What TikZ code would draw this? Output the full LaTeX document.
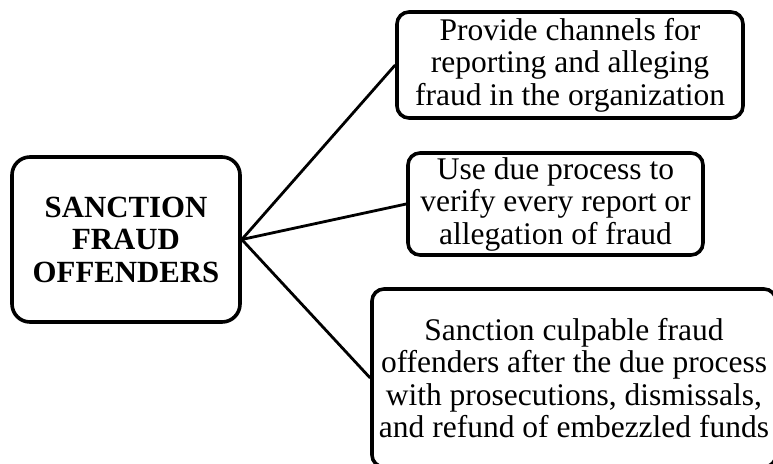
\documentclass[tikz,border=0pt]{standalone}
\usepackage{fontspec}
\setmainfont{Liberation Serif}
\begin{document}
\begin{tikzpicture}[x=1pt,y=-1pt,
  box/.style={draw=black, line width=3.6pt, rounded corners=12pt, inner sep=0pt, align=center, font=\fontsize{31.5}{32.5}\selectfont},
  mainbox/.style={box, rounded corners=18pt, font=\bfseries\fontsize{30.8}{32.5}\selectfont},
  link/.style={draw=black, line width=2.8pt}]
\useasboundingbox[fill=white] (0,0) rectangle (773,463);
\begin{scope}
\clip (0,0) rectangle (773,463);
\node[mainbox, minimum width=228pt, minimum height=165pt] (main) at (126,239.5) {SANCTION\\FRAUD\\OFFENDERS};
\node[box, minimum width=346pt, minimum height=106pt] (b1) at (570,65) {Provide channels for\\reporting and alleging\\fraud in the organization};
\node[box, minimum width=295pt, minimum height=102pt] (b2) at (555.5,204) {Use due process to\\verify every report or\\allegation of fraud};
\node[box, minimum width=404pt, minimum height=178pt] (b3) at (574,378) {Sanction culpable fraud\\offenders after the due process\\with prosecutions, dismissals,\\and refund of embezzled funds};
\draw[link] (main.east) -- (b1.west);
\draw[link] (main.east) -- (b2.west);
\draw[link] (main.east) -- (b3.west);
\end{scope}
\end{tikzpicture}
\end{document}
